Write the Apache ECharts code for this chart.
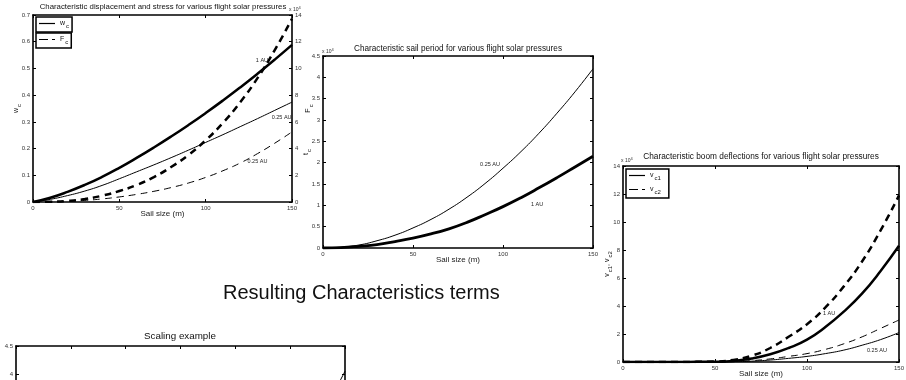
<!DOCTYPE html>
<html>
<head>
<meta charset="utf-8">
<script src="https://cdn.jsdelivr.net/npm/echarts@6/dist/echarts.min.js"></script>
<style>
  html, body { margin: 0; padding: 0; background: #fff; }
  #main { width: 906px; height: 380px; }
</style>
</head>
<body>
<div id="main"></div>
<script>
const FONT = 'Liberation Sans, Arial, sans-serif';

// sail size (m), shared by the three characteristic plots
const sizes = [0, 10, 20, 30, 40, 50, 60, 70, 80, 90, 100, 110, 120, 130, 140, 150];

// displacement w_c (left axis) and stress F_c (right axis, x 10^4)
const wc1AU = [0, 0.016, 0.038, 0.064, 0.094, 0.128, 0.165, 0.204, 0.245, 0.288, 0.333, 0.38, 0.429, 0.48, 0.533, 0.588];
const wc025AU = [0, 0.01, 0.024, 0.041, 0.062, 0.087, 0.113, 0.139, 0.166, 0.194, 0.223, 0.252, 0.282, 0.312, 0.343, 0.374];
const fc1AU = [0, 0.02, 0.08, 0.22, 0.47, 0.82, 1.27, 1.87, 2.62, 3.52, 4.62, 5.92, 7.47, 9.27, 11.37, 13.72];
const fc025AU = [0, 0.01, 0.05, 0.12, 0.23, 0.38, 0.57, 0.8, 1.08, 1.42, 1.84, 2.34, 2.92, 3.62, 4.4, 5.25];

// sail period t_c (x 10^4)
const tc025AU = [0, 0.02, 0.07, 0.17, 0.3, 0.47, 0.67, 0.91, 1.19, 1.51, 1.87, 2.26, 2.69, 3.16, 3.66, 4.2];
const tc1AU = [0, 0.01, 0.04, 0.08, 0.15, 0.23, 0.33, 0.45, 0.6, 0.78, 0.97, 1.18, 1.41, 1.65, 1.9, 2.15];

// boom deflections v_c1 / v_c2 (x 10^4)
const vc2_1AU = [0, 0, 0, 0, 0.01, 0.03, 0.15, 0.45, 1.0, 1.8, 2.7, 3.9, 5.4, 7.2, 9.4, 11.9];
const vc1_1AU = [0, 0, 0, 0, 0.01, 0.02, 0.08, 0.25, 0.55, 1.0, 1.6, 2.5, 3.6, 4.9, 6.5, 8.3];
const vc2_025AU = [0, 0, 0, 0, 0, 0.01, 0.03, 0.1, 0.22, 0.4, 0.6, 0.9, 1.3, 1.8, 2.4, 3.0];
const vc1_025AU = [0, 0, 0, 0, 0, 0.01, 0.02, 0.06, 0.14, 0.26, 0.4, 0.6, 0.85, 1.2, 1.6, 2.1];

// scaling example (only the top strip is visible)
const scaleX = [0, 1, 2, 3, 4, 5, 6];
const scaleY = [0.1, 0.3, 0.6, 1.0, 1.6, 2.5, 4.05];

const pairs = (xs, ys) => xs.map((x, i) => [x, ys[i]]);

const SUB = {
  m: { fontSize: 7, color: '#111', fontFamily: FONT },
  s: { fontSize: 6, color: '#111', fontFamily: FONT, padding: [5, 0, 0, 1] },
  a: { fontSize: 5, color: '#333', fontFamily: FONT },
  b: { fontSize: 4, color: '#333', fontFamily: FONT, padding: [0, 0, 4, 0] },
};

const axisLine = { show: true, onZero: false, lineStyle: { color: '#000', width: 1.6 } };
const tick = { show: true, inside: true, length: 3, lineStyle: { color: '#000', width: 1 } };
const tickLabel = { fontSize: 6, color: '#333', margin: 3, fontFamily: FONT };

function xAx(grid, min, max, interval, pos, name) {
  return {
    type: 'value', gridIndex: grid, position: pos, min, max, interval,
    name: name || '', nameLocation: 'middle', nameGap: 8, nameMoveOverlap: false,
    nameTextStyle: { fontSize: 8, color: '#222', fontFamily: FONT },
    axisLine, axisTick: tick,
    axisLabel: pos === 'bottom' ? tickLabel : { show: false },
    splitLine: { show: false },
  };
}

function yAx(grid, min, max, interval, pos, labels, name, gap) {
  return {
    type: 'value', gridIndex: grid, position: pos, min, max, interval,
    name: name || '', nameLocation: 'middle', nameGap: gap || 11, nameRotate: 90, nameMoveOverlap: false,
    nameTextStyle: { fontSize: 7, color: '#111', fontFamily: FONT, rich: SUB },
    axisLine, axisTick: tick,
    axisLabel: labels ? tickLabel : { show: false },
    splitLine: { show: false },
  };
}

function line(name, xi, yi, data, width, dashed) {
  return {
    name, type: 'line', xAxisIndex: xi, yAxisIndex: yi,
    data, symbol: 'none', smooth: 0.5,
    lineStyle: { color: '#000', width, type: dashed ? [7, 5] : 'solid' },
    itemStyle: { color: '#000' },
  };
}

function tag(text, x, y) {
  return {
    symbol: 'circle', symbolSize: 0, silent: true,
    label: { show: true, position: 'inside', formatter: text, fontSize: 5.5, color: '#222', fontFamily: FONT },
    data: [{ coord: [x, y] }],
  };
}

const subNames = {
  w_c: '{m|w}{s|c}',
  F_c: '{m|F}{s|c}',
  v_c1: '{m|v}{s|c1}',
  v_c2: '{m|v}{s|c2}',
};

const SOLID_ICON = 'rect';
const DASH_ICON = 'path://M0 0H9V1H0Z M13 0H16V1H13Z';

const legendBase = {
  orient: 'vertical', itemWidth: 16, itemHeight: 1.2, itemGap: 5,
  borderColor: '#000', borderWidth: 1.5, padding: [3, 3, 3, 3],
  backgroundColor: '#fff', selectedMode: false,
  itemStyle: { color: '#000' },
  formatter: (n) => subNames[n],
  textStyle: { fontSize: 7, color: '#111', fontFamily: FONT, rich: SUB },
};

const gridBase = { containLabel: false, outerBoundsMode: 'none', show: false };

const chart = echarts.init(document.getElementById('main'), null, { renderer: 'canvas' });

const ttl = (text, left, top, size, align) => ({
  text, left, top, padding: 0, textAlign: align || 'center',
  textStyle: { fontSize: size, fontWeight: 'normal', color: '#111', fontFamily: FONT, rich: SUB },
});

chart.setOption({
  backgroundColor: '#fff',
  animation: false,
  title: [
    ttl('Characteristic displacement and stress for various flight solar pressures', 163, 3, 7.8),
    ttl('Characteristic sail period for various flight solar pressures', 458, 45, 8.2),
    ttl('Characteristic boom deflections for various flight solar pressures', 761, 153, 8.3),
    ttl('Scaling example', 180, 331, 9.8),
    ttl('Resulting Characteristics terms', 223, 283, 20, 'left'),
    ttl('{a|x 10}{b|4}', 289, 6, 5, 'left'),
    ttl('{a|x 10}{b|4}', 322, 48, 5, 'left'),
    ttl('{a|x 10}{b|4}', 621, 157, 5, 'left'),
  ],
  legend: [
    { ...legendBase, left: 36, top: 17, data: [{ name: 'w_c', icon: SOLID_ICON }] },
    { ...legendBase, left: 36, top: 33, data: [{ name: 'F_c', icon: DASH_ICON }] },
    { ...legendBase, left: 626, top: 169, padding: [3, 8, 3, 3], data: [{ name: 'v_c1', icon: SOLID_ICON }, { name: 'v_c2', icon: DASH_ICON }] },
  ],
  grid: [
    { ...gridBase, left: 33, top: 15, width: 259, height: 187 },
    { ...gridBase, left: 323, top: 56, width: 270, height: 192 },
    { ...gridBase, left: 623, top: 166, width: 276, height: 196 },
    { ...gridBase, left: 16, top: 346, width: 329, height: 252 },
  ],
  xAxis: [
    xAx(0, 0, 150, 50, 'bottom', 'Sail size (m)'),
    xAx(0, 0, 150, 50, 'top'),
    xAx(1, 0, 150, 50, 'bottom', 'Sail size (m)'),
    xAx(1, 0, 150, 50, 'top'),
    xAx(2, 0, 150, 50, 'bottom', 'Sail size (m)'),
    xAx(2, 0, 150, 50, 'top'),
    xAx(3, 0, 6, 1, 'bottom'),
    xAx(3, 0, 6, 1, 'top'),
  ],
  yAxis: [
    yAx(0, 0, 0.7, 0.1, 'left', true, '{m|w}{s|c}', 11),
    yAx(0, 0, 14, 2, 'right', true, '{m|F}{s|c}', 11),
    yAx(1, 0, 4.5, 0.5, 'left', true, '{m|t}{s|c}', 11),
    yAx(1, 0, 4.5, 0.5, 'right', false),
    yAx(2, 0, 14, 2, 'left', true, '{m|v}{s|c1}{m|, v}{s|c2}', 10),
    yAx(2, 0, 14, 2, 'right', false),
    yAx(3, 0, 4.5, 0.5, 'left', true),
    yAx(3, 0, 4.5, 0.5, 'right', false),
  ],
  series: [
    { ...line('w_c', 0, 0, pairs(sizes, wc1AU), 2.5, false), markPoint: tag('1 AU', 132.6, 0.528) },
    { ...line('w_c', 0, 0, pairs(sizes, wc025AU), 1, false), markPoint: tag('0.25 AU', 144, 0.318) },
    line('F_c', 0, 1, pairs(sizes, fc1AU), 2.5, true),
    { ...line('F_c', 0, 1, pairs(sizes, fc025AU), 1, true), markPoint: tag('0.25 AU', 130, 3.0) },

    { ...line('t_c 0.25 AU', 2, 2, pairs(sizes, tc025AU), 1, false), markPoint: tag('0.25 AU', 92.8, 1.95) },
    { ...line('t_c 1 AU', 2, 2, pairs(sizes, tc1AU), 2.8, false), markPoint: tag('1 AU', 118.9, 1.03) },

    { ...line('v_c1', 4, 4, pairs(sizes, vc1_1AU), 2.5, false), markPoint: tag('1 AU', 112, 3.5) },
    line('v_c1', 4, 4, pairs(sizes, vc1_025AU), 1, false),
    line('v_c2', 4, 4, pairs(sizes, vc2_1AU), 2.5, true),
    { ...line('v_c2', 4, 4, pairs(sizes, vc2_025AU), 1, true), markPoint: tag('0.25 AU', 138, 0.79) },

    line('scaling', 6, 6, pairs(scaleX, scaleY), 1, false),
  ],
});
</script>
</body>
</html>
